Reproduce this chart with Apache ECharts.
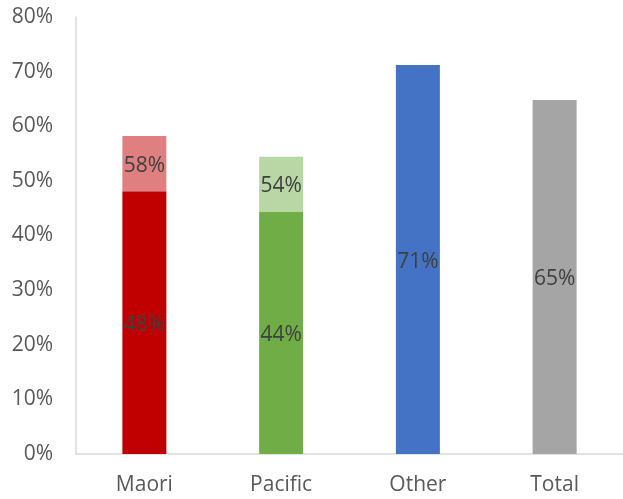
<!DOCTYPE html>
<html>
<head>
<meta charset="utf-8">
<script src="https://cdn.jsdelivr.net/npm/echarts@6/dist/echarts.min.js"></script>
<style>html,body{margin:0;padding:0;background:#fff}#c{width:623px;height:499px}</style>
</head>
<body>
<div id="c"></div>
<script>
var categories = ['Maori', 'Pacific', 'Other', 'Total'];
var baseValues = [48.1, 44.3, 71.2, 64.8];
var topValues = [58.2, 54.4, null, null];
var yTicks = [0, 10, 20, 30, 40, 50, 60, 70, 80];

var baseColors = ['#C00000', '#70AD47', '#4472C4', '#A5A5A5'];
var lightColors = ['#E07F7F', '#B9D7A5', '#4472C4', '#A5A5A5'];
var FONT = 'Open Sans';

var extValues = topValues.map(function (t, i) { return t == null ? null : +(t - baseValues[i]).toFixed(2); });

var chart = echarts.init(document.getElementById('c'), null, { renderer: 'canvas' });
chart.setOption({
  animation: false,
  grid: { left: 76, right: 0, top: 17, bottom: 45, containLabel: false },
  xAxis: {
    type: 'category',
    data: categories,
    axisLine: { lineStyle: { color: '#D9D9D9', width: 1.5 } },
    axisTick: { show: false },
    axisLabel: { color: '#595959', fontFamily: FONT, fontSize: 21, margin: 21 }
  },
  yAxis: {
    type: 'value',
    min: yTicks[0], max: yTicks[yTicks.length - 1], interval: 10,
    axisLine: { show: true, lineStyle: { color: '#D9D9D9', width: 1.5 } },
    axisTick: { show: false },
    splitLine: { show: false },
    axisLabel: { color: '#595959', fontFamily: FONT, fontSize: 21, margin: 23, formatter: '{value}%' }
  },
  series: [
    {
      type: 'bar', stack: 's', barWidth: 44,
      data: baseValues.map(function (v, i) { return { value: v, itemStyle: { color: baseColors[i] } }; }),
      label: {
        show: true, position: 'inside', offset: [0, 2], color: '#404040', fontFamily: FONT, fontSize: 21,
        formatter: function (p) { return Math.round(p.value) + '%'; }
      }
    },
    {
      type: 'bar', stack: 's', barWidth: 44,
      data: extValues.map(function (v, i) { return { value: v, itemStyle: { color: lightColors[i] } }; }),
      label: {
        show: true, position: 'inside', offset: [0, 2], color: '#404040', fontFamily: FONT, fontSize: 21,
        formatter: function (p) { return p.value == null ? '' : Math.round(topValues[p.dataIndex]) + '%'; }
      }
    }
  ]
});
</script>
</body>
</html>
